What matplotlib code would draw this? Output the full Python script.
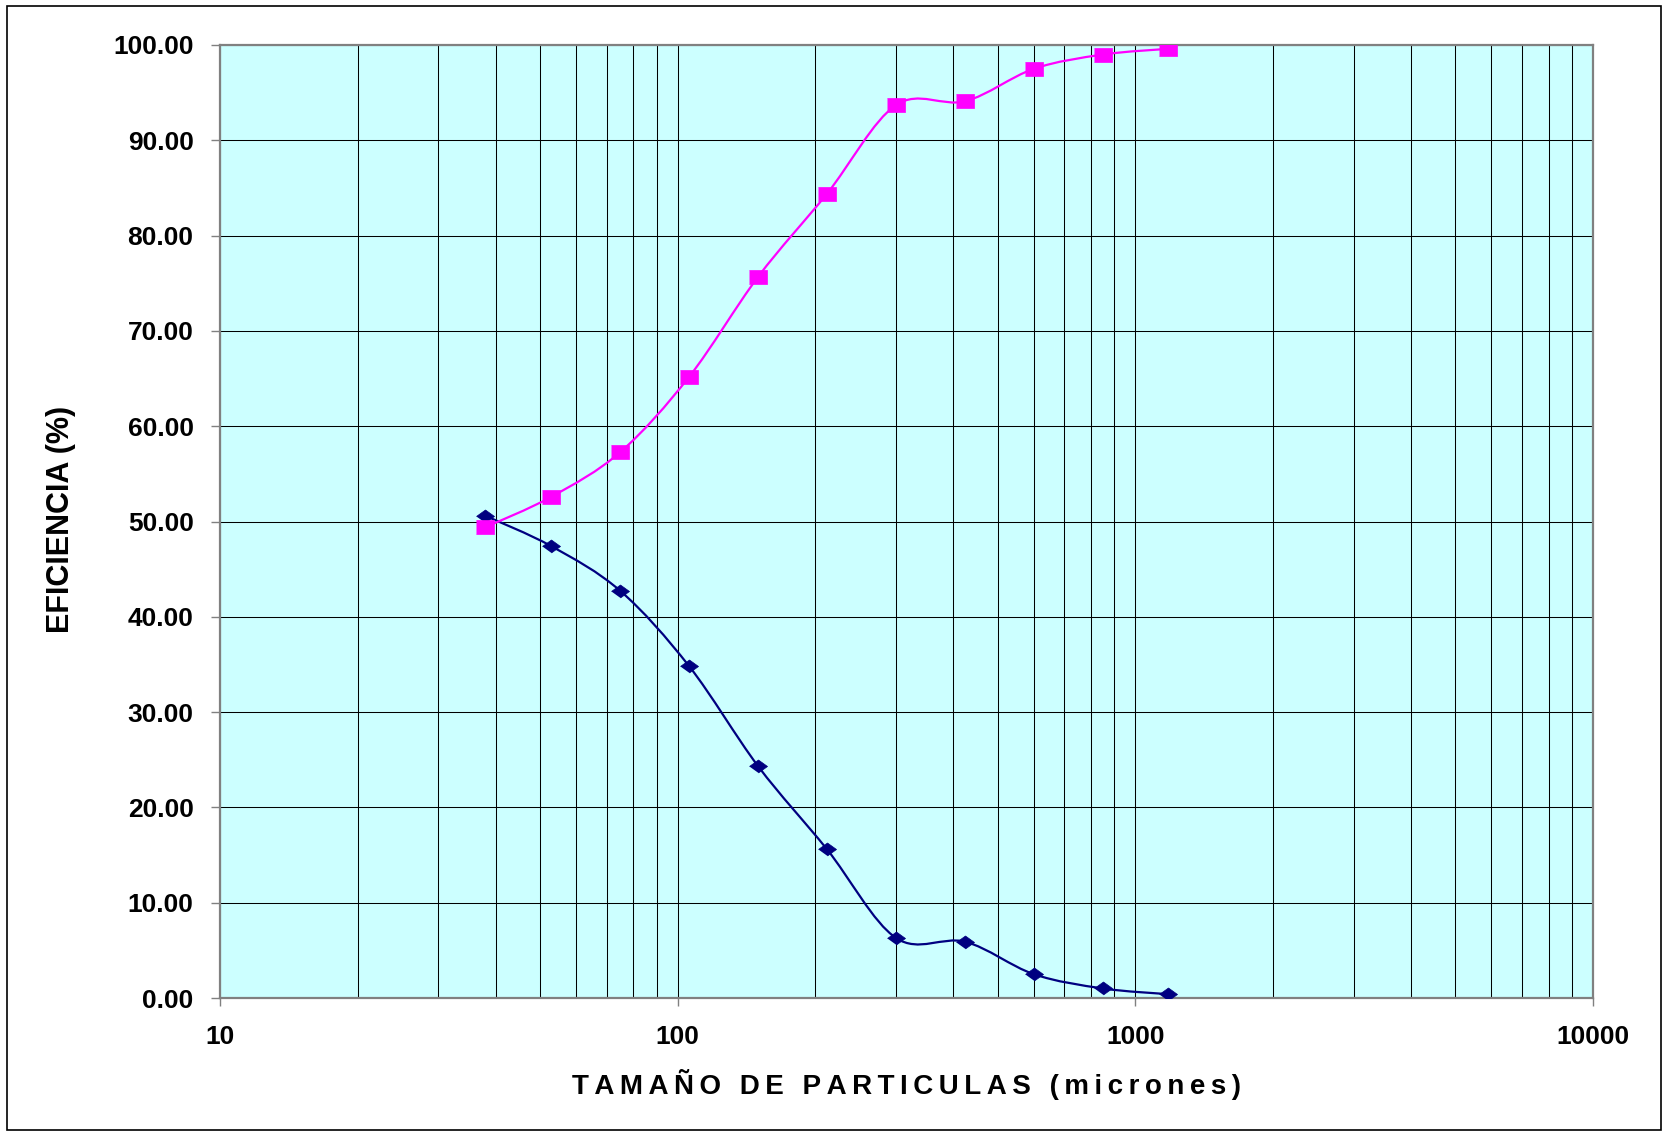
import matplotlib
matplotlib.use('Agg')
import matplotlib.pyplot as plt
import numpy as np
from matplotlib.path import Path
from matplotlib.patches import PathPatch, Rectangle
from matplotlib.ticker import FixedLocator, LogLocator, NullFormatter, FuncFormatter

plt.rcParams['font.family'] = ['Liberation Sans', 'DejaVu Sans']
plt.rcParams['font.weight'] = 'bold'

# particle size (microns), sieve openings
tamano = [38, 53, 75, 106, 150, 212, 300, 425, 600, 850, 1180]
# efficiency curves (%)
eficiencia_gruesos = [49.4, 52.6, 57.3, 65.2, 75.7, 84.4, 93.7, 94.1, 97.5, 99.0, 99.6]
eficiencia_finos = [50.6, 47.4, 42.7, 34.8, 24.3, 15.6, 6.3, 5.9, 2.5, 1.0, 0.4]

x_ticks = [10, 100, 1000, 10000]
x_tick_labels = ['10', '100', '1000', '10000']
y_ticks = [0, 10, 20, 30, 40, 50, 60, 70, 80, 90, 100]

W, H = 1666, 1131


def smooth_path(xs, ys):
    # excel style smoothed line: catmull-rom bezier in log-x space
    u = np.log10(np.asarray(xs, dtype=float))
    v = np.asarray(ys, dtype=float)
    n = len(u)
    verts = [(u[0], v[0])]
    codes = [Path.MOVETO]
    for i in range(n - 1):
        i0 = max(i - 1, 0)
        i3 = min(i + 2, n - 1)
        c1 = (u[i] + (u[i + 1] - u[i0]) / 6, v[i] + (v[i + 1] - v[i0]) / 6)
        c2 = (u[i + 1] - (u[i3] - u[i]) / 6, v[i + 1] - (v[i3] - v[i]) / 6)
        verts += [c1, c2, (u[i + 1], v[i + 1])]
        codes += [Path.CURVE4] * 3
    verts = np.array(verts)
    verts[:, 0] = 10 ** verts[:, 0]
    return Path(verts, codes)


fig = plt.figure(figsize=(W / 100, H / 100), dpi=100)
ax = fig.add_axes([220 / W, (H - 998) / H, 1373 / W, 953 / H])
ax.set_facecolor('#CCFFFF')

ax.set_xscale('log')
ax.set_xlim(10, 10000)
ax.set_ylim(0, 100)

# series (markers a bit wider than tall, like the original)
sq = [(-0.62, -0.5), (0.62, -0.5), (0.62, 0.5), (-0.62, 0.5)]
dm = [(-1, 0), (0, 0.72), (1, 0), (0, -0.72)]

ax.add_patch(PathPatch(smooth_path(tamano, eficiencia_finos), fill=False,
                       edgecolor='#000080', lw=1.6, zorder=3))
ax.plot(tamano, eficiencia_finos, ls='none', marker=dm, ms=13,
        color='#000080', mew=0.5, zorder=4)

ax.add_patch(PathPatch(smooth_path(tamano, eficiencia_gruesos), fill=False,
                       edgecolor='#FF00FF', lw=1.6, zorder=5))
ax.plot(tamano, eficiencia_gruesos, ls='none', marker=sq, ms=12.5,
        color='#FF00FF', mew=0.5, zorder=6)

# grid and axes
ax.set_axisbelow(True)
ax.xaxis.set_major_locator(FixedLocator(x_ticks))
ax.xaxis.set_minor_locator(LogLocator(base=10, subs=np.arange(2, 10)))
ax.xaxis.set_minor_formatter(NullFormatter())
ax.set_xticklabels(x_tick_labels)
ax.set_yticks(y_ticks)
ax.yaxis.set_major_formatter(FuncFormatter(lambda v, p: '%.2f' % v))
ax.grid(which='both', color='black', lw=0.75)

for s in ax.spines.values():
    s.set_color('#808080')
    s.set_linewidth(1.6)

ax.tick_params(axis='both', which='major', direction='out', color='#808080',
               width=1, labelsize=19, labelcolor='black')
ax.tick_params(axis='y', length=6.5, pad=12.5)
ax.tick_params(axis='x', length=6, pad=13.5)
ax.tick_params(axis='x', which='minor', length=0)

ax.set_ylabel('EFICIENCIA (%)', fontsize=22, fontweight='bold', va='center')
ax.yaxis.set_label_coords((61 - 220) / 1373, (998 - 519) / 953)

xlabel = '\u2009'.join(list('TAMAÑO DE PARTICULAS (micrones)'))
ax.set_xlabel(xlabel, fontsize=20, fontweight='bold', va='center')
ax.xaxis.set_label_coords(0.5, (998 - 1085) / 953)

# chart area border
fig.add_artist(Rectangle((7 / W, 1.5 / H), 1654 / W, 1124 / H,
                         transform=fig.transFigure, fill=False,
                         edgecolor='black', lw=1.2))

plt.savefig('out.png', dpi=100)
